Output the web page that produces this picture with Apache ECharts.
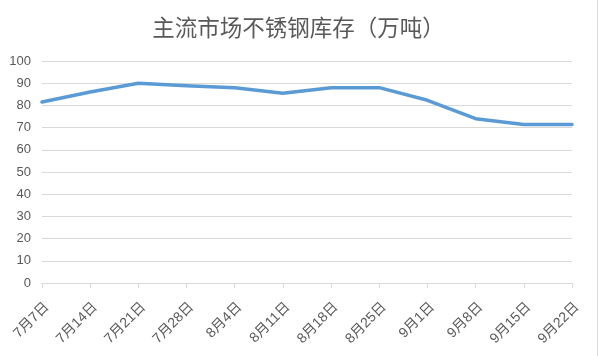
<!DOCTYPE html>
<html><head><meta charset="utf-8">
<script src="https://cdn.jsdelivr.net/npm/echarts@6/dist/echarts.min.js"></script>
<style>html,body{margin:0;padding:0;background:#fff}#c{width:597px;height:356px;border-right:1px solid #d9d9d9}</style>
</head><body><div id="c"></div>
<script>
const title = '主流市场不锈钢库存（万吨）';
const categories = ['7月7日','7月14日','7月21日','7月28日','8月4日','8月11日','8月18日','8月25日','9月1日','9月8日','9月15日','9月22日'];
const values = [81.5, 86, 90, 88.8, 88, 85.5, 88, 88, 82.3, 74, 71.4, 71.4];
const yTicks = {min: 0, max: 100, interval: 10};
const chart = echarts.init(document.getElementById('c'));
const ff = '"Liberation Sans","Noto Sans CJK SC",sans-serif';
chart.setOption({
  animation: false,
  title: {text: title, left: 'center', top: 11, textStyle: {fontFamily: '"Noto Sans CJK SC",sans-serif', fontSize: 22.5, fontWeight: 'normal', color: '#595959'}},
  grid: {left: 42, right: 25, top: 61, bottom: 73, containLabel: false},
  xAxis: {type: 'category', data: categories, boundaryGap: false,
    axisLine: {lineStyle: {color: '#d9d9d9'}},
    axisTick: {show: true, length: 5, lineStyle: {color: '#d9d9d9'}},
    axisLabel: {rotate: 45, fontSize: 14, color: '#595959', fontFamily: ff, margin: 17, interval: 0, verticalAlign: 'top'}},
  yAxis: {type: 'value', min: yTicks.min, max: yTicks.max, interval: yTicks.interval,
    axisLine: {show: false}, axisTick: {show: false},
    splitLine: {lineStyle: {color: '#d9d9d9'}},
    axisLabel: {fontSize: 13, color: '#595959', fontFamily: ff, margin: 11}},
  series: [{type: 'line', data: values, showSymbol: false, symbol: 'none',
    lineStyle: {color: '#5b9bd5', width: 3.5, cap: 'round', join: 'round'}}]
});
</script></body></html>
